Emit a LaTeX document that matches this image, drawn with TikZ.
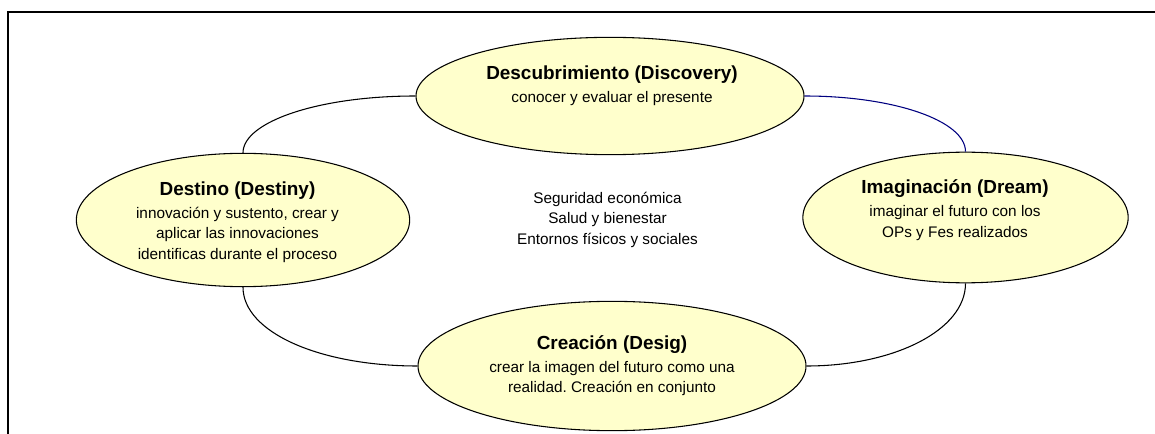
\documentclass[tikz,border=0pt]{standalone}
\usepackage{fontspec}
\setmainfont{Liberation Sans}
\usetikzlibrary{shapes.geometric}
\definecolor{amarillo}{HTML}{FFFFCC}
\definecolor{azul}{HTML}{000080}
\newcommand{\tfase}[1]{{\fontsize{14.2}{17}\selectfont\bfseries #1}}
\frenchspacing

\begin{document}
\begin{tikzpicture}[x=0.75pt,y=-0.75pt,
        fase/.style={ellipse,draw=black,line width=0.8pt,fill=amarillo,inner sep=0pt},
        texto/.style={align=center,inner sep=0pt,font=\fontsize{11.5}{15.4}\selectfont},
        enlace/.style={line width=0.8pt}]
        \useasboundingbox (0,0) rectangle (1155,434);
        \draw[line width=1.3pt] (8,434) -- (8,12) -- (1155,12);

        \node[fase,minimum width=291pt,minimum height=88pt] (disc) at (610,96) {};
        \node[fase,minimum width=244pt,minimum height=98pt] (imag) at (965.5,217.5) {};
        \node[fase,minimum width=250pt,minimum height=100pt] (dest) at (243,220) {};
        \node[fase,minimum width=291pt,minimum height=97pt] (crea) at (612,366) {};

        \node[texto] (discT) at (612,85.5) {\tfase{Descubrimiento (Discovery)}\\[1.9pt]
            conocer y evaluar el presente};
        \node[texto] (imagT) at (955,210) {\tfase{Imaginación (Dream)}\\[1.9pt]
            imaginar el futuro con los\\OPs y Fes realizados};
        \node[texto] (destT) at (237.5,222) {\tfase{Destino (Destiny)}\\[1.9pt]
            innovación y sustento, crear y\\aplicar las innovaciones\\identificas durante el proceso};
        \node[texto] (creaT) at (612,365.5) {\tfase{Creación (Desig)}\\[1.9pt]
            crear la imagen del futuro como una\\realidad. Creación en conjunto};
        \node[texto] (centro) at (607.5,219.5) {Seguridad económica\\Salud y bienestar\\Entornos físicos y sociales};

        \draw[enlace] (disc.west) .. controls +(-97,0) and +(0,-31) .. (dest.north);
        \draw[enlace,azul] (disc.east) .. controls +(89,0) and +(0,-31) .. (imag.north);
        \draw[enlace] (dest.south) .. controls +(0,45) and +(-98,0) .. (crea.west);
        \draw[enlace] (imag.south) .. controls +(0,47) and +(87,0) .. (crea.east);
    \end{tikzpicture}
\end{document}
